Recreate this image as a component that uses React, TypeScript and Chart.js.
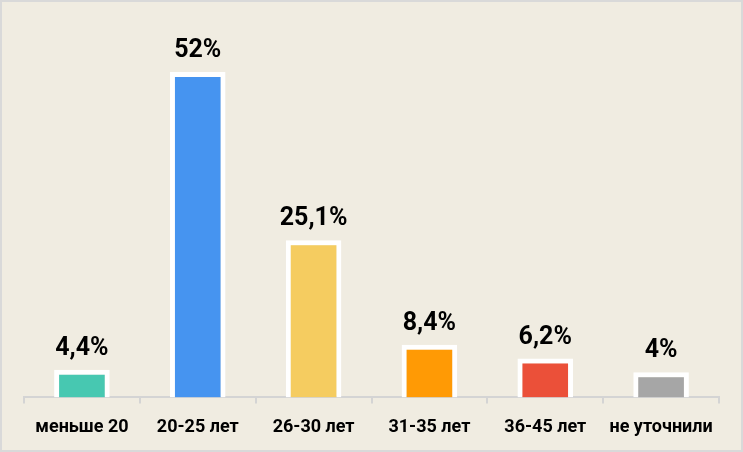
import React, { useEffect, useRef } from "react";
import { Chart, registerables } from "chart.js";

Chart.register(...registerables);

const categories = ["меньше 20", "20-25 лет", "26-30 лет", "31-35 лет", "36-45 лет", "не уточнили"];
const values = [4.4, 52, 25.1, 8.4, 6.2, 4];
const valueLabels = ["4,4%", "52%", "25,1%", "8,4%", "6,2%", "4%"];
const barColors = ["#47c8b1", "#4694f0", "#f5cc60", "#ff9a05", "#eb5039", "#a6a6a6"];

const FONT = "Roboto, 'Open Sans', sans-serif";

const bgPlugin = {
  id: "bg",
  beforeDraw(chart: any) {
    const { ctx, width, height } = chart;
    ctx.save();
    ctx.fillStyle = "#f0ece1";
    ctx.fillRect(0, 0, width, height);
    ctx.strokeStyle = "#d9d9d9";
    ctx.lineWidth = 2;
    ctx.strokeRect(1, 1, width - 2, height - 2);
    ctx.restore();
  },
};

const labelPlugin = {
  id: "valueLabels",
  afterDatasetsDraw(chart: any) {
    const { ctx } = chart;
    const meta = chart.getDatasetMeta(0);
    ctx.save();
    ctx.fillStyle = "#000";
    ctx.font = `bold 25px ${FONT}`;
    ctx.textAlign = "center";
    ctx.textBaseline = "alphabetic";
    meta.data.forEach((bar: any, i: number) => {
      ctx.fillText(valueLabels[i], bar.x, bar.y - 15);
    });
    ctx.restore();
  },
};

export default function App() {
  const ref = useRef<HTMLCanvasElement>(null);
  useEffect(() => {
    document.body.style.margin = "0";
    const chart = new Chart(ref.current!, {
      type: "bar",
      data: {
        labels: categories,
        datasets: [
          {
            data: values,
            backgroundColor: barColors,
            borderColor: "#ffffff",
            borderWidth: 5,
            barPercentage: 0.48,
            categoryPercentage: 1,
          },
        ],
      },
      options: {
        animation: false,
        responsive: false,
        layout: { padding: { left: 24, right: 24, top: 22, bottom: 1 } },
        plugins: { legend: { display: false }, tooltip: { enabled: false } },
        scales: {
          y: { display: false, min: 0, max: 60 },
          x: {
            offset: true,
            grid: {
              offset: true,
              drawOnChartArea: false,
              drawTicks: true,
              tickLength: 6,
              color: "#d4d4d4",
              lineWidth: 2,
            },
            border: { color: "#d4d4d4", width: 2 },
            ticks: {
              color: "#000",
              padding: 13,
              font: { family: FONT, size: 18, weight: "bold" },
              maxRotation: 0,
            },
          },
        },
      },
      plugins: [bgPlugin, labelPlugin],
    });
    return () => chart.destroy();
  }, []);
  return <canvas ref={ref} width={743} height={452} style={{ display: "block" }} />;
}
